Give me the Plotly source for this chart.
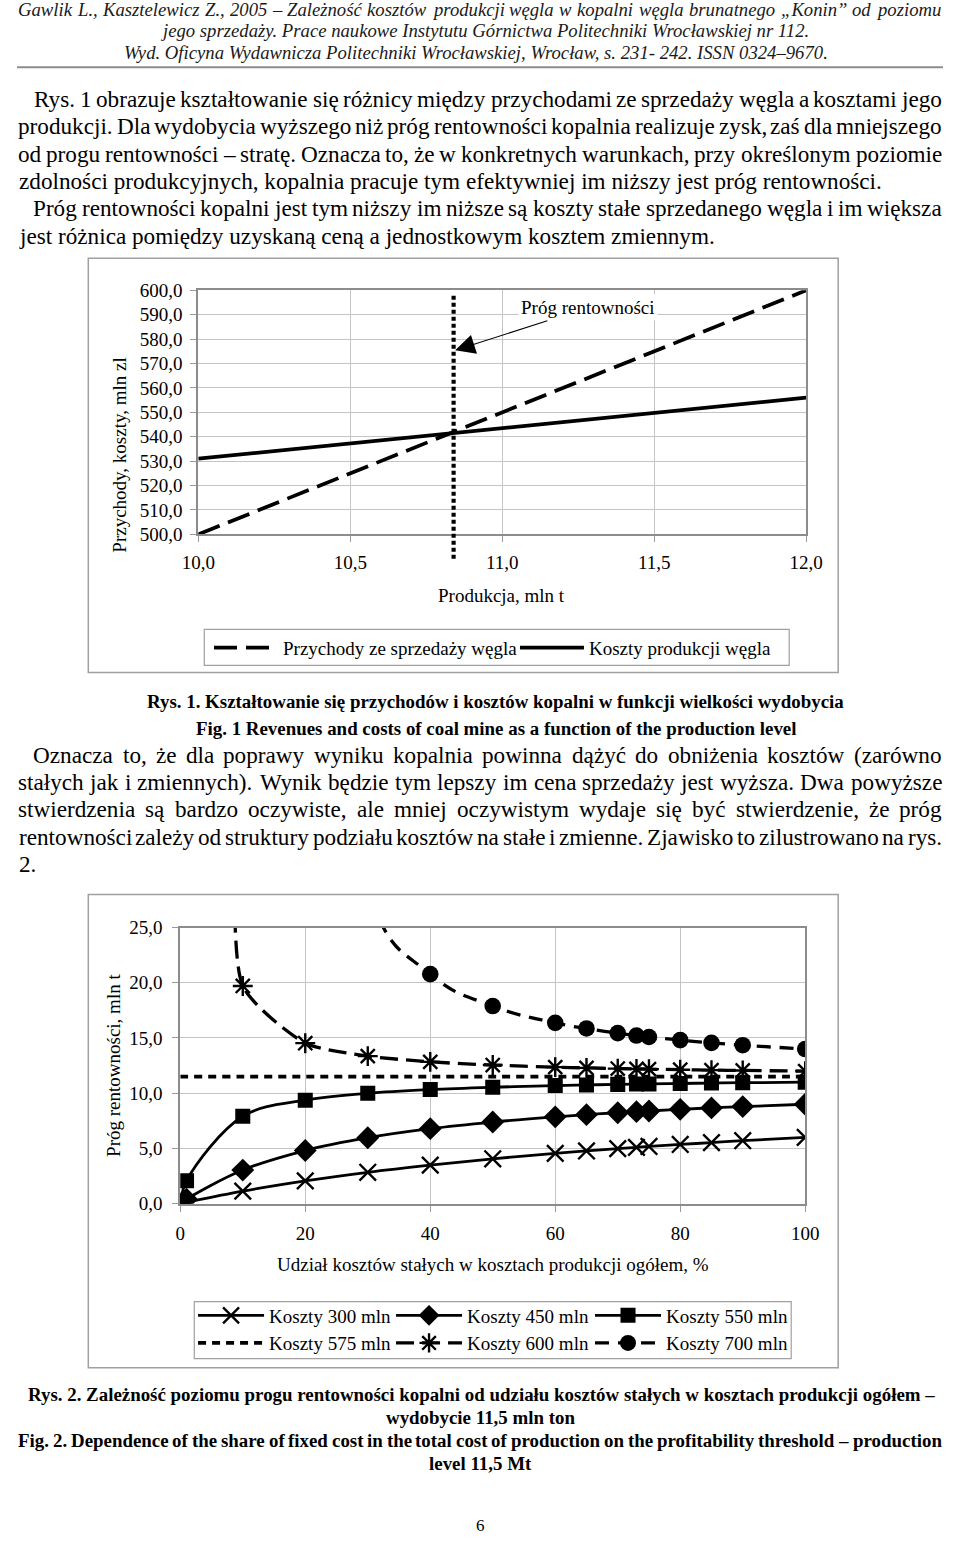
import plotly.graph_objects as go

W, H = 960, 1541
FONT = "Liberation Serif"

# ---------------- chart 1 data ----------------
production = [10.0, 10.5, 11.0, 11.5, 12.0]
revenue = [500.0, 525.0, 550.0, 575.0, 600.0]
cost = [531.0, 537.25, 543.5, 549.75, 556.0]
breakeven_q = 10.84
breakeven_span = [490.0, 598.5]
arrow_target = [10.845, 575.4]
x1_ticks = [10.0, 10.5, 11.0, 11.5, 12.0]
x1_labels = ["10,0", "10,5", "11,0", "11,5", "12,0"]
y1_ticks = [500, 510, 520, 530, 540, 550, 560, 570, 580, 590, 600]
y1_labels = ["500,0", "510,0", "520,0", "530,0", "540,0", "550,0",
             "560,0", "570,0", "580,0", "590,0", "600,0"]
series1_names = ["Przychody ze sprzedaży węgla", "Koszty produkcji węgla"]

# ---------------- chart 2 data ----------------
share = [0, 1, 10, 20, 30, 40, 50, 60, 65, 70, 73, 75, 80, 85, 90, 100]
thr_300 = [0.0, 0.12, 1.13, 2.06, 2.84, 3.49, 4.06, 4.55, 4.77, 4.98, 5.10, 5.18, 5.36, 5.53, 5.70, 6.0]
thr_450 = [0.0, 0.40, 3.04, 4.81, 5.97, 6.79, 7.39, 7.86, 8.06, 8.23, 8.33, 8.39, 8.54, 8.67, 8.79, 9.0]
thr_550 = [0.0, 2.07, 7.91, 9.37, 9.99, 10.33, 10.54, 10.69, 10.75, 10.80, 10.83, 10.84, 10.88, 10.92, 10.95, 11.0]
thr_575 = [11.5, 11.5, 11.5, 11.5, 11.5, 11.5, 11.5, 11.5, 11.5, 11.5, 11.5, 11.5, 11.5, 11.5, 11.5, 11.5]
share_600 = [9.5, 10, 20, 30, 40, 50, 60, 65, 70, 73, 75, 80, 85, 90, 100]
thr_600 = [45.0, 19.71, 14.53, 13.36, 12.84, 12.55, 12.36, 12.29, 12.23, 12.20, 12.18, 12.13, 12.09, 12.06, 12.0]
share_700 = [20, 30, 40, 50, 60, 65, 70, 73, 75, 80, 85, 90, 100]
thr_700 = [150.0, 28.4, 20.78, 17.89, 16.37, 15.86, 15.44, 15.22, 15.09, 14.81, 14.56, 14.35, 14.0]
x2_ticks = [0, 20, 40, 60, 80, 100]
x2_labels = ["0", "20", "40", "60", "80", "100"]
y2_ticks = [0, 5, 10, 15, 20, 25]
y2_labels = ["0,0", "5,0", "10,0", "15,0", "20,0", "25,0"]
series2_names = ["Koszty 300 mln", "Koszty 450 mln", "Koszty 550 mln",
                 "Koszty 575 mln", "Koszty 600 mln", "Koszty 700 mln"]

# ---------------- page text ----------------
header_lines = [
    "Gawlik L., Kasztelewicz Z., 2005 – Zależność kosztów produkcji węgla w kopalni węgla brunatnego „Konin” od poziomu",
    "jego sprzedaży. Prace naukowe Instytutu Górnictwa Politechniki Wrocławskiej nr 112.",
    "Wyd. Oficyna Wydawnicza Politechniki Wrocławskiej, Wrocław, s. 231- 242. ISSN 0324–9670.",
]
para1_lines = [
    "Rys. 1 obrazuje kształtowanie się różnicy między przychodami ze sprzedaży węgla a kosztami jego",
    "produkcji. Dla wydobycia wyższego niż próg rentowności kopalnia realizuje zysk, zaś dla mniejszego",
    "od progu rentowności – stratę. Oznacza to, że w konkretnych warunkach, przy określonym poziomie",
    "zdolności produkcyjnych, kopalnia pracuje tym efektywniej im niższy jest próg rentowności.",
    "Próg rentowności kopalni jest tym niższy im niższe są koszty stałe sprzedanego węgla i im większa",
    "jest różnica pomiędzy uzyskaną ceną a jednostkowym kosztem zmiennym.",
]
para2_lines = [
    "Oznacza to, że dla poprawy wyniku kopalnia powinna dążyć do obniżenia kosztów (zarówno",
    "stałych jak i zmiennych). Wynik będzie tym lepszy im cena  sprzedaży jest wyższa. Dwa powyższe",
    "stwierdzenia są bardzo oczywiste, ale mniej oczywistym wydaje się być stwierdzenie, że próg",
    "rentowności zależy od struktury podziału kosztów na stałe i zmienne. Zjawisko to zilustrowano na rys.",
    "2.",
]
caption1 = ["Rys. 1. Kształtowanie się przychodów i kosztów kopalni w funkcji wielkości wydobycia",
            "Fig. 1 Revenues and costs of coal mine as a function of the production level"]
caption2 = ["Rys. 2. Zależność poziomu progu rentowności kopalni od udziału kosztów stałych w kosztach produkcji ogółem –",
            "wydobycie 11,5 mln ton",
            "Fig. 2. Dependence of the share of fixed cost in the total cost of production on the profitability threshold  – production",
            "level 11,5 Mt"]
page_number = "6"

# ---------------- page geometry: target positions -> figure pixels ----------------
TX, TY, SX, SY = 16.7, 9.8, 0.9647, 0.986


def fx(xr):
    return (xr - TX) / SX


def fy(yr):
    return (yr - TY) / SY


def clampx(p):
    return min(max(p, 1.0), W - 1.0)


def PX(xr):
    return clampx(fx(xr)) / W


def PY(yr):
    return 1 - fy(yr) / H


def S(v):
    return v / SX


# ---------------- font metrics (Times / Liberation Serif, 1/1000 em) ----------------
LOW = "abcdefghijklmnopqrstuvwxyz"
UP = "ABCDEFGHIJKLMNOPQRSTUVWXYZ"


def _mk(lower, upper, extra):
    d = dict(zip(LOW, lower))
    d.update(zip(UP, upper))
    for c in "0123456789":
        d[c] = 500
    d.update(extra)
    return d


REG = _mk([444, 500, 444, 500, 444, 333, 500, 500, 278, 278, 500, 278, 778, 500, 500, 500, 500, 333, 389, 278, 500, 500, 722, 500, 500, 444],
          [722, 667, 667, 722, 611, 556, 722, 722, 333, 389, 722, 611, 889, 722, 722, 556, 722, 667, 556, 611, 722, 722, 944, 722, 722, 611],
          {" ": 250, ",": 250, ".": 250, "-": 333, "–": 500, "(": 333, ")": 333, "%": 833, ":": 278,
           "„": 444, "”": 444, "ą": 444, "ć": 444, "ę": 444, "ł": 278, "ń": 500, "ó": 500, "ś": 389,
           "ź": 444, "ż": 444, "Ł": 611, "Ś": 556, "Ż": 611, "Ź": 611, "Ó": 722})
BOLD = _mk([500, 556, 444, 556, 444, 333, 500, 556, 278, 333, 556, 278, 833, 556, 500, 556, 556, 444, 389, 333, 556, 500, 722, 500, 500, 444],
           [722, 667, 722, 722, 667, 611, 778, 778, 389, 500, 778, 667, 944, 722, 778, 611, 778, 722, 556, 667, 722, 722, 1000, 722, 722, 667],
           {" ": 250, ",": 250, ".": 250, "-": 333, "–": 500, "(": 333, ")": 333, "%": 1000, ":": 333,
            "ą": 500, "ć": 444, "ę": 444, "ł": 278, "ń": 556, "ó": 500, "ś": 389, "ź": 444, "ż": 444,
            "Ł": 667, "Ś": 556, "Ż": 667})
ITAL = _mk([500, 500, 444, 500, 444, 278, 500, 500, 278, 278, 444, 278, 722, 500, 500, 500, 500, 389, 389, 278, 500, 444, 667, 444, 444, 389],
           [611, 611, 667, 722, 611, 611, 722, 722, 333, 444, 667, 556, 833, 667, 722, 611, 722, 611, 500, 556, 722, 611, 833, 611, 556, 556],
           {" ": 250, ",": 250, ".": 250, "-": 333, "–": 500, ":": 333, "„": 556, "”": 556,
            "ą": 500, "ć": 444, "ę": 444, "ł": 278, "ń": 500, "ó": 500, "ś": 389, "ź": 389, "ż": 389,
            "Ł": 556, "Ś": 500, "Ż": 556})
METRICS = {"r": REG, "b": BOLD, "i": ITAL}
WORD_K = 1.043  # rendered word advance vs nominal metric (figure pixels)


def tw(s, fmt, size):
    m = METRICS[fmt]
    return WORD_K * sum(m.get(c, 500) for c in s) * size / 1000.0


annotations = []
TEXT_DY = -1.5


def put_fig(s, x_fig, y_ref, size, fmt="r", xanchor="left", color="black"):
    t = s
    if fmt == "b":
        t = "<b>" + s + "</b>"
    elif fmt == "i":
        t = "<i>" + s + "</i>"
    annotations.append(dict(text=t, x=x_fig / W, y=PY(y_ref + TEXT_DY), xref="paper", yref="paper",
                            xanchor=xanchor, yanchor="middle", showarrow=False, borderpad=0,
                            font=dict(family=FONT, size=size, color=color)))


def put(s, x_ref, y_ref, size, fmt="r", xanchor="left", color="black"):
    put_fig(s, clampx(fx(x_ref)), y_ref, size, fmt, xanchor, color)


def justify(s, x0_ref, x1_ref, y_ref, size, fmt="r", color="black"):
    """Justified line: each word centred at its computed slot, so width errors stay local."""
    x0, x1 = clampx(fx(x0_ref)), clampx(fx(x1_ref))
    words = s.split()
    ws = [tw(w, fmt, size) for w in words]
    n = len(words)
    gap = (x1 - x0 - sum(ws)) / (n - 1)
    x = x0
    for w, wd in zip(words, ws):
        put_fig(w, x + wd / 2.0, y_ref, size, fmt, "center", color)
        x += wd + gap


BODY = 23.2
HEAD = 18.7
CAP = 18.9
CH = 19.0

# header
justify(header_lines[0], 5, 940, 11, HEAD, "i", "#1a1a1a")
put(header_lines[1], 485, 32, HEAD, "i", "center", "#1a1a1a")
put(header_lines[2], 476, 54, HEAD, "i", "center", "#1a1a1a")

# paragraph 1
p1_y = [100, 127, 155, 182, 209, 237]
p1_x0 = [33, 5, 5, 5, 33, 5]
p1_just = [True, True, True, False, True, False]
for s, y, x0, j in zip(para1_lines, p1_y, p1_x0, p1_just):
    if j:
        justify(s, x0, 955, y, BODY)
    else:
        put(s, x0, y, BODY)

# captions fig 1
put(caption1[0], 495, 703, CAP, "b", "center")
put(caption1[1], 496, 730, CAP, "b", "center")

# paragraph 2
p2_y = [756, 783, 810, 838, 865]
p2_x0 = [33, 5, 5, 5, 5]
p2_just = [True, True, True, True, False]
for s, y, x0, j in zip(para2_lines, p2_y, p2_x0, p2_just):
    if j:
        justify(s, x0, 955, y, BODY)
    else:
        put(s, x0, y, BODY)

# captions fig 2
put(caption2[0], 481.5, 1395, CAP, "b", "center")
put(caption2[1], 480, 1418, CAP, "b", "center")
justify(caption2[2], 5, 955, 1441, CAP, "b")
put(caption2[3], 480, 1464, CAP, "b", "center")
put(page_number, 480, 1526, 17, "r", "center")

# axis titles
put("Produkcja, mln t", 501, 597, CH, "r", "center")
put("Udział kosztów stałych w kosztach produkcji ogółem, %", 493, 1265, CH, "r", "center")
for txt, xr, yr in [("Przychody, koszty, mln zl", 119, 455), ("Próg rentowności, mln t", 113, 1065)]:
    annotations.append(dict(text=txt, x=PX(xr), y=PY(yr), xref="paper", yref="paper",
                            textangle=-90, showarrow=False, xanchor="center", yanchor="middle",
                            font=dict(family=FONT, size=CH, color="black")))

# break-even label with arrow (label centre relative to arrow tip)
annotations.append(dict(text="Próg rentowności", x=arrow_target[0], y=arrow_target[1], xref="x", yref="y",
                        ax=S(583 - 455), ay=(308 - 350) / SY, showarrow=True, arrowhead=2, arrowsize=3.6,
                        arrowwidth=1.1, arrowcolor="black", bgcolor="white", borderpad=2,
                        font=dict(family=FONT, size=CH, color="black")))

# ---------------- figure ----------------
fig = go.Figure()

fig.add_trace(go.Scatter(x=production, y=revenue, mode="lines", name=series1_names[0],
                         line=dict(color="black", width=S(3.6), dash="23px,9px"),
                         xaxis="x", yaxis="y", legend="legend"))
fig.add_trace(go.Scatter(x=production, y=cost, mode="lines", name=series1_names[1],
                         line=dict(color="black", width=S(3.6)),
                         xaxis="x", yaxis="y", legend="legend2"))

styles2 = [
    (share, thr_300, dict(width=S(2.7)), dict(symbol="x-thin-open", size=S(16), line=dict(width=S(2.3), color="black")), 1.0),
    (share, thr_450, dict(width=S(2.7)), dict(symbol="diamond", size=S(17), color="black"), 1.0),
    (share, thr_550, dict(width=S(2.7)), dict(symbol="square", size=S(14.5), color="black"), 1.0),
    (share, thr_575, dict(width=S(3.5), dash="8px,6px"), None, 1.0),
    (share_600, thr_600, dict(width=S(3.2), dash="18px,8px"), dict(symbol="asterisk-open", size=S(16), line=dict(width=S(2.3), color="black")), 0.6),
    (share_700, thr_700, dict(width=S(3.2), dash="14px,9px"), dict(symbol="circle", size=S(16), color="black"), 1.3),
]
for k, (name, (xs, ys, ln, mk, sm)) in enumerate(zip(series2_names, styles2)):
    ln = dict(ln, color="black", shape="spline", smoothing=sm)
    lg = "legend%d" % (k + 3)
    if mk is None:
        fig.add_trace(go.Scatter(x=xs, y=ys, mode="lines", name=name, line=ln,
                                 xaxis="x2", yaxis="y2", legend=lg))
    else:
        fig.add_trace(go.Scatter(x=xs, y=ys, mode="lines+markers", name=name, line=ln, marker=mk,
                                 xaxis="x2", yaxis="y2", legend=lg))

y1_dom = [PY(534), PY(290)]


def y1_paper(v):
    return y1_dom[0] + (v - 500) / 100.0 * (y1_dom[1] - y1_dom[0])


def rect(x0, y0, x1, y1, width):
    return dict(type="rect", xref="paper", yref="paper", x0=PX(x0), x1=PX(x1), y0=PY(y1), y1=PY(y0),
                line=dict(color="#a0a0a0", width=width))


shapes = [
    dict(type="line", xref="paper", yref="paper", x0=0, x1=1, y0=PY(67), y1=PY(67),
         line=dict(color="#8c8c8c", width=2)),
    rect(88, 258, 838, 672, 1.5),
    rect(204, 629, 789, 665, 1.2),
    rect(88, 894, 838, 1367, 1.5),
    rect(194, 1301, 791, 1358, 1.2),
    dict(type="line", xref="x", yref="paper", x0=breakeven_q, x1=breakeven_q,
         y0=y1_paper(breakeven_span[0]), y1=y1_paper(breakeven_span[1]),
         line=dict(color="black", width=S(4), dash="4px,3px")),
]

axis_common = dict(showline=True, mirror=True, linecolor="#8c8c8c", linewidth=2,
                   showgrid=True, gridcolor="#c4c4c4", gridwidth=1, zeroline=False,
                   ticks="outside", ticklen=6, tickcolor="#9a9a9a",
                   tickfont=dict(family=FONT, size=CH, color="black"), fixedrange=True)

legend_common = dict(orientation="h", xanchor="left", yanchor="middle", bgcolor="rgba(0,0,0,0)",
                     borderwidth=0, font=dict(family=FONT, size=CH, color="black"),
                     itemclick=False, itemdoubleclick=False)

# one legend per entry; text start (target, page px) = legend x + itemwidth + 13
IW1, IW2 = 64, 66
leg1_text_ref = [283, 589]
leg2_text_ref = [269, 467, 666]
leg_layout = {}
for i, xr in enumerate(leg1_text_ref):
    key = "legend" if i == 0 else "legend2"
    leg_layout[key] = dict(x=(fx(xr) - IW1 - 13) / W, y=1 - 646.5 / H, itemwidth=IW1, **legend_common)
for k in range(6):
    xr = leg2_text_ref[k % 3]
    yrow = 1323.5 if k < 3 else 1351.5
    leg_layout["legend%d" % (k + 3)] = dict(x=(fx(xr) - IW2 - 13) / W, y=1 - yrow / H, itemwidth=IW2,
                                            **legend_common)

fig.update_layout(
    width=W, height=H, autosize=False,
    margin=dict(l=0, r=0, t=0, b=0, pad=0),
    paper_bgcolor="white", plot_bgcolor="white",
    showlegend=True, hovermode=False, dragmode=False,
    xaxis=dict(domain=[PX(198), PX(806)], range=[10, 12], tickvals=x1_ticks, ticktext=x1_labels,
               anchor="y", ticklabelstandoff=4, **axis_common),
    yaxis=dict(domain=y1_dom, range=[500, 600], tickvals=y1_ticks, ticktext=y1_labels,
               anchor="x", ticklabelstandoff=4, **axis_common),
    xaxis2=dict(domain=[PX(180), PX(805)], range=[0, 100], tickvals=x2_ticks, ticktext=x2_labels,
                anchor="y2", ticklabelstandoff=6, **axis_common),
    yaxis2=dict(domain=[PY(1203), PY(927)], range=[0, 25], tickvals=y2_ticks, ticktext=y2_labels,
                anchor="x2", ticklabelstandoff=6, **axis_common),
    annotations=annotations,
    shapes=shapes,
    **leg_layout,
)

fig.write_html("out.html", config={"displayModeBar": False, "staticPlot": True},
               post_script="document.body.style.margin='0px';")
